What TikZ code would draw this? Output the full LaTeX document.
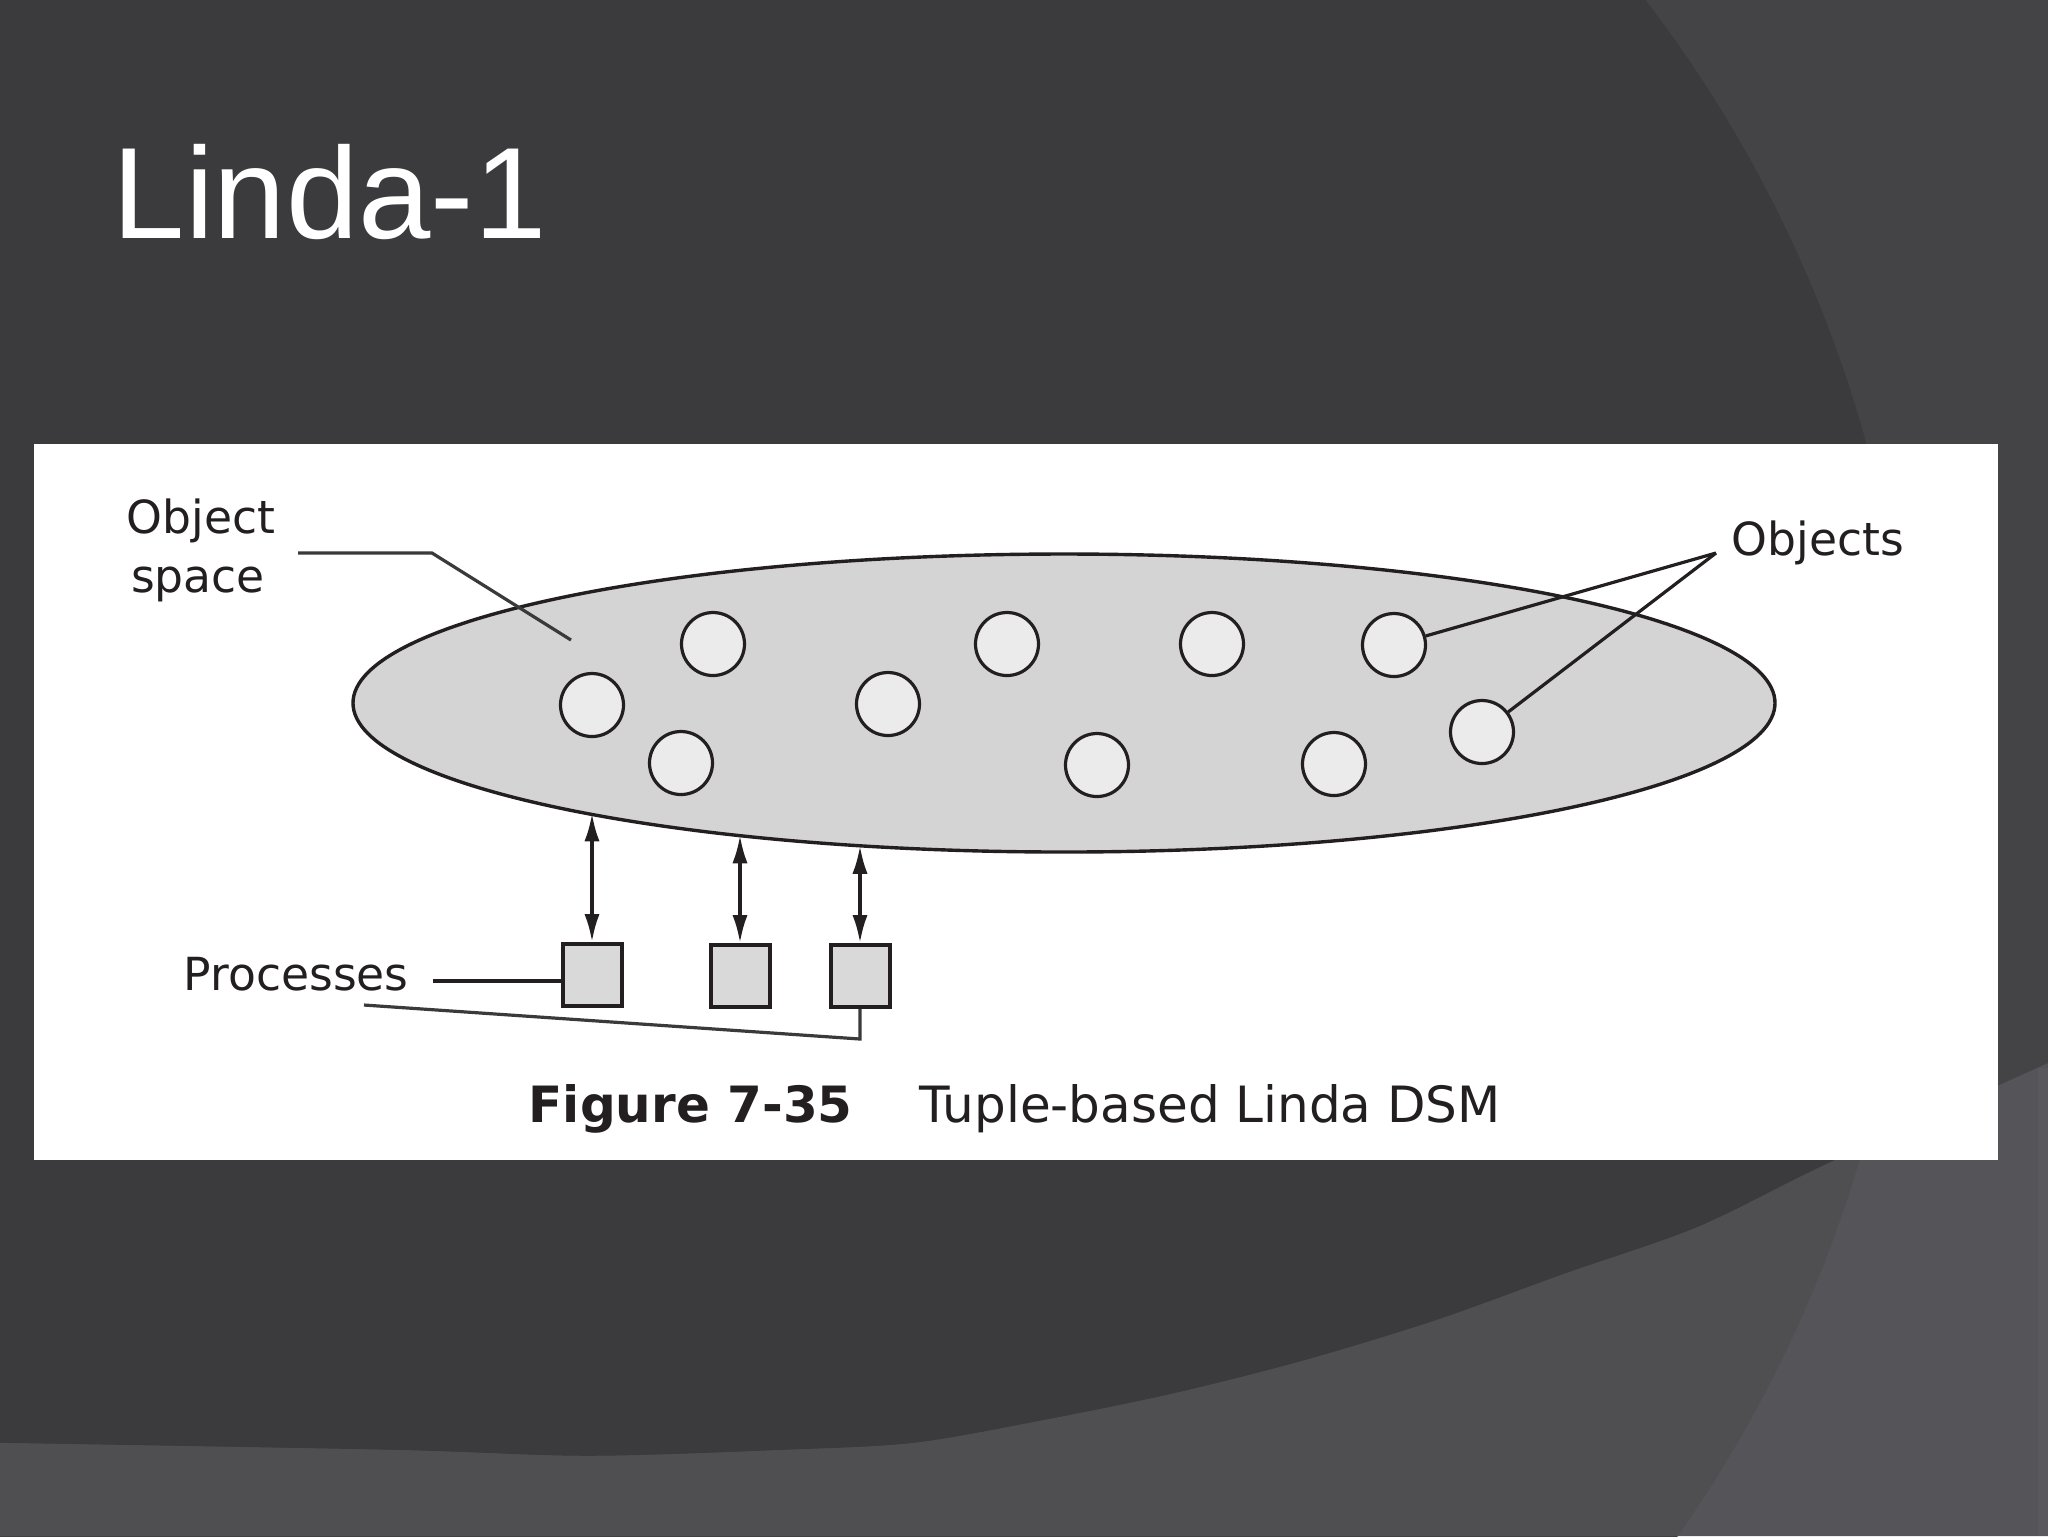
\documentclass[tikz,border=0pt]{standalone}
\usepackage{fontspec}
\setmainfont{DejaVu Sans}
\newfontfamily\titlefont{Liberation Sans}
\usetikzlibrary{arrows.meta,shapes.geometric}
\definecolor{bgdark}{HTML}{3B3A3D}
\definecolor{bglite}{HTML}{444346}
\definecolor{bandL}{HTML}{4F4E51}
\definecolor{bandR}{HTML}{555458}
\definecolor{edgeR}{HTML}{59585C}
\definecolor{ink}{HTML}{231F20}
\definecolor{spacefill}{HTML}{D4D4D4}
\definecolor{objfill}{HTML}{EBEBEB}
\definecolor{procfill}{HTML}{D9D9D9}
\definecolor{leader}{HTML}{3A3A3A}
\begin{document}
\begin{tikzpicture}[x=0.25pt,y=-0.25pt,
  lbl/.style={font=\fontsize{11.4pt}{14pt}\selectfont, text=ink, inner sep=0, anchor=base west},
  obj/.style={circle, draw=ink, fill=objfill, line width=0.8pt, minimum size=15.75pt, inner sep=0},
  proc/.style={rectangle, draw=ink, fill=procfill, line width=1pt, minimum width=14.75pt, minimum height=15.5pt, inner sep=0},
  dbl/.style={{Latex[length=7pt,width=3.8pt]}-{Latex[length=7pt,width=3.8pt]}, draw=ink, line width=0.85pt},
  lead/.style={draw=leader, line width=0.8pt}]
\useasboundingbox (0,0) rectangle (2048,1536);
% background
\fill[bglite] (0,0) rectangle (2048,1536);
\fill[bgdark] (613,790) circle[radius=1300];
\fill[bandR] plot[smooth] coordinates {(0,1443) (392,1450) (588,1456) (784,1450) (914,1443) (1045,1420) (1176,1393) (1306,1360) (1437,1320) (1567,1273) (1698,1227) (1829,1163) (2048,1063)} -- (2048,1536) -- (0,1536) -- cycle;
\begin{scope}
\clip (613,790) circle[radius=1300];
\fill[bandL] plot[smooth] coordinates {(0,1443) (392,1450) (588,1456) (784,1450) (914,1443) (1045,1420) (1176,1393) (1306,1360) (1437,1320) (1567,1273) (1698,1227) (1829,1163) (2048,1063)} -- (2048,1536) -- (0,1536) -- cycle;
\end{scope}
\fill[edgeR] (2038,1068) rectangle (2048,1536);
% title
\node[anchor=base west, inner sep=0, text=white, font=\titlefont\fontsize{32.5pt}{36pt}\selectfont] (title) at (112,238) {Linda-1};
% panel
\fill[white] (34,444) rectangle (1998,1160);
% object space
\node[ellipse, draw=ink, fill=spacefill, line width=0.85pt, minimum width=355.5pt, minimum height=74.5pt, inner sep=0, outer sep=0] (os) at (1064,703) {};
% objects
\node[obj] (c1) at (592,705) {};
\node[obj] (c2) at (713,644) {};
\node[obj] (c3) at (681,763) {};
\node[obj] (c4) at (888,704) {};
\node[obj] (c5) at (1007,644) {};
\node[obj] (c6) at (1097,765) {};
\node[obj] (c7) at (1212,644) {};
\node[obj] (c8) at (1394,645) {};
\node[obj] (c9) at (1334,764) {};
\node[obj] (c10) at (1482,732) {};
% labels
\node[lbl, anchor=base] (lo1) at (201,533) {Object};
\node[lbl, anchor=base] (lo2) at (198,592) {space};
\coordinate (os1) at (298,553);
\coordinate (os2) at (432,553);
\coordinate (os3) at (571,640);
\draw[lead] (os1) -- (os2) -- (os3);
\node[lbl] (lobj) at (1731,555) {Objects};
\coordinate (ob) at (1716,553);
\draw[lead, draw=ink] (ob) -- (c8);
\draw[lead, draw=ink] (ob) -- (c10);
% processes
\node[proc] (b1) at (592,975) {};
\node[proc] (b2) at (740,976) {};
\node[proc] (b3) at (860,976) {};
\draw[dbl] (b1.north) -- (b1.north |- os.193.2);
\draw[dbl] (b2.north) -- (b2.north |- os.202.3);
\draw[dbl] (b3.north) -- (b3.north |- os.215.0);
\node[lbl] (lproc) at (183,990) {Processes};
\coordinate (pl) at (433,981);
\draw[lead, draw=ink] (pl) -- (pl -| b1.west);
\coordinate (pb1) at (364,1005);
\coordinate (pb2) at (860,1039);
\draw[lead] (pb1) -- (pb2) -- (b3.south);
% caption
\node[inner sep=0, anchor=base west, text=ink, font=\fontsize{12.5pt}{15pt}\selectfont\bfseries] (cap1) at (528,1122) {Figure 7-35};
\node[inner sep=0, anchor=base west, text=ink, font=\fontsize{12.5pt}{15pt}\selectfont] (cap2) at (919,1122) {Tuple-based Linda DSM};
\end{tikzpicture}
\end{document}
